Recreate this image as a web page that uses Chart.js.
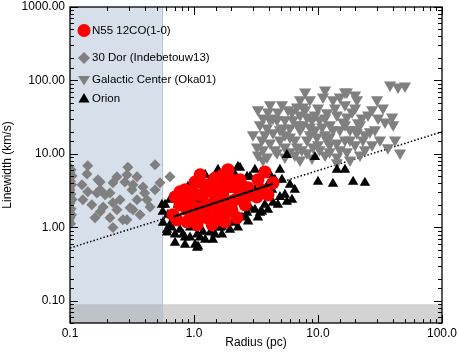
<!DOCTYPE html>
<html>
<head>
<meta charset="utf-8">
<script src="https://cdn.jsdelivr.net/npm/chart.js@4/dist/chart.umd.min.js"></script>
<style>
  html, body { margin: 0; padding: 0; background: #fff; }
</style>
</head>
<body>
<canvas id="chart" width="459" height="353"></canvas>
<script>
// --- DATA ---
// N55 12CO(1-0)
const n55Radius = [1.12,1.68,1.88,0.771,0.703,0.98,1.18,1.42,1.71,1.53,1.27,1.06,0.878,0.677,0.729,0.878,1.06,1.27,1.56,1.85,1.78,
  1.71,1.85,2.14,2.44,3.73,3.28,4.34,3.22,3.95,2.22,1.95,1.68,1.35,0.928,1.12,1.48,2.14,2.58,2.83,2.35,1.23,0.846,2.02,1.40,1.06,
  0.77,1.02,1.23,1.48,1.78,2.35,2.73,2.02,1.48,1.02,0.846,3.53,1.62];
const n55Width = [5.2,4.7,6.1,3.05,2.6,3.05,2.78,3.05,2.95,2.23,2.03,1.85,1.74,1.49,1.27,1.19,1.19,1.36,1.4,1.63,1.19,
  5.2,3.57,3.57,3.05,5.7,4.45,4.05,2.6,2.78,1.36,2.23,1.27,3.8,2.38,2.78,1.85,2.38,2.03,2.78,4.45,3.8,2.38,1.74,1.09,1.09,
  2.03,1.49,1.58,2.38,2.03,2.78,3.46,4.45,4.7,4.15,3.25,3.25,3.8];

// 30 Dor (Indebetouw13)
const dorRadius = [0.098,0.102,0.1,0.104,0.097,0.101,0.103,0.099,0.1,0.102,0.098,0.104,0.1,0.097,0.102,0.099,0.103,0.1,0.098,0.101,
  0.139,0.137,0.168,0.239,0.293,0.485,0.64,0.222,0.288,0.322,0.347,0.175,0.175,0.277,0.532,0.139,0.165,0.210,0.316,0.388,0.127,
  0.222,0.253,0.347,0.418,0.150,0.185,0.239,0.305,0.442,0.322,0.175,0.367,0.267,0.159,0.210,0.288,0.222,0.192,0.40,0.485,0.125];
const dorWidth = [6.6,6.1,5.5,5.0,4.6,4.2,3.8,3.4,3.2,2.85,2.6,2.4,2.15,1.97,1.8,1.63,1.49,1.35,1.23,1.12,
  6.9,5.35,4.45,4.9,6.6,7.1,4.9,4.05,5.2,3.8,4.9,3.25,4.15,4.15,4.05,3.05,2.95,2.95,3.25,3.55,2.38,
  2.16,2.38,2.38,2.38,2.03,1.9,1.74,1.85,1.9,1.74,1.63,1.49,1.27,1.35,1.35,1.27,1.0,2.78,2.95,3.25,3.8];

// Galactic Center (Oka01)
const gcRadius = [7.87,8.6,10.97,13.2,15.0,17.1,38.1,44.2,50.3,29.9,33.4,25.3,39.6,40.4,45.9,
  3.28,4.75,5.73,6.77,7.55,3.6,4.67,2.99,3.22,3.88,4.34,5.22,6.28,8.14,9.45,11.8,14.2,17.1,21.0,
  8.6,10.8,12.5,15.0,7.16,5.94,4.93,4.1,3.6,4.67,6.77,8.14,9.8,11.8,14.2,18.1,23.0,26.2,20.6,
  17.1,14.2,10.3,9.1,8.14,5.94,3.88,8.95,14.2,
  5.41,7.16,10.3,16.5,19.9,5.94,8.6,11.4,13.2,4.93,6.5,5.41,12.4,16.5,21.8,28.8,31.6,23.9,4.1,7.55,10.0,16.5,19.9,3.6,7.16,11.4,19.9,4.34,3.53,
  3.4,3.95,5.12,6.17,7.87,8.95,11.4,13.7,15.9,18.8,22.6,27.3,34.7,41.8,36.6,27.3,21.8,18.1,12.4,10.0,
  7.4,5.41,4.49,3.28,3.73,5.41,6.89,9.45,12.4,18.1,23.9,30.5,20.6,11.4,7.16,4.1,19.9,16.5,6.5,15.0];
const gcWidth = [69.8,54.5,59.7,54.5,59.7,69.8,86.9,81.6,84.1,54.5,42.3,34.0,31.9,24.9,10.3,
  39.8,37.3,39.8,43.6,43.6,30.9,29.1,18.2,12.4,22.6,19.4,22.6,29.1,31.9,34.0,36.3,34.0,31.9,26.5,
  23.3,23.3,24.9,21.3,21.3,17.0,15.5,14.1,11.4,10.4,12.4,15.5,17.0,15.5,14.1,15.5,15.5,20.0,19.4,
  10.7,9.1,11.4,12.4,10.4,10.7,9.1,8.8,7.6,
  29.1,34.0,29.1,24.9,21.3,22.6,18.2,18.2,21.3,21.3,15.5,12.4,13.3,15.5,24.9,21.3,15.5,11.4,29.1,24.9,42.3,46.6,42.3,8.3,8.3,9.7,13.3,30.9,15.5,
  24.9,37.3,46.6,37.3,39.8,29.1,30.9,42.3,27.2,37.3,30.9,39.8,27.2,15.5,12.1,13.3,9.7,8.3,10.7,13.3,
  11.4,9.1,11.4,9.7,18.2,18.2,24.9,21.3,17.0,21.3,18.2,30.9,54.5,74.3,54.5,46.6,63.6,69.8,9.7,11.4];

// Orion
const orionRadius = [0.562,0.606,0.703,0.703,0.815,0.928,1.02,1.06,1.18,1.35,1.62,1.78,1.35,1.42,1.85,0.928,0.815,0.584,
  1.88,2.35,2.83,4.93,5.12,5.94,4.26,4.93,3.73,4.34,3.4,2.83,2.58,5.61,5.61,9.45,10.0,13.2,19.2,23.9,14.2,16.5,6.17,3.53,
  2.26,2.68,0.98,0.894,0.771,0.552,0.617,0.606,0.846,1.08,1.68,2.02,2.44,2.68,3.1,2.14,1.48,1.23,0.64,0.74,
  3.28,3.95,4.49,3.53,3.1,1.12,1.48,1.95,2.35,1.62,2.83,0.77,
  0.64,0.74,0.66,0.77,0.93,1.12,1.42,1.68,1.95,2.26,2.73,3.28,3.95,4.75,5.41,6.5,4.1,3.1,2.58,2.14,1.56,1.23,1.12,0.815,0.56,0.846,1.06];
const orionWidth = [1.16,0.85,0.80,0.62,0.80,0.73,0.58,0.80,0.87,0.85,0.99,1.16,4.45,4.05,4.45,3.46,3.05,2.03,
  6.1,6.47,4.9,6.1,4.45,3.8,3.25,2.6,2.03,2.16,1.58,1.85,1.40,2.23,9.7,9.1,4.18,3.93,4.18,4.05,6.1,6.1,2.38,1.63,
  6.7,4.9,3.8,3.57,2.95,2.03,1.49,0.93,0.73,0.55,1.02,1.16,1.36,1.58,1.74,1.2,0.8,0.68,1.09,1.27,
  2.78,3.8,4.45,5.2,3.25,2.38,2.78,3.25,2.38,1.74,2.6,1.9,
  2.38,2.03,1.0,0.93,1.0,0.73,0.68,0.80,0.93,1.0,1.2,1.36,1.74,2.03,2.78,3.25,5.2,6.1,3.8,5.2,6.1,5.2,3.8,2.03,1.63,0.58,0.53];

// fits: N55 fit (solid) and size-linewidth relation (dotted)
const fitRadius = [0.68, 4.33];
const fitWidth = [1.40, 3.92];
const larsonRadius = [0.1, 100];
const larsonWidth = [0.525, 20];

// shaded regions
const beamRadius = [0.1, 0.55];
const resolutionWidth = [0.05, 0.09];

const legendLabels = ['N55 12CO(1-0)', '30 Dor (Indebetouw13)', 'Galactic Center (Oka01)', 'Orion'];

// --- helpers ---
const toPoints = (xs, ys) => xs.map((v, i) => ({ x: v, y: ys[i] }));
const isDecade = v => Math.abs(Math.log10(v) - Math.round(Math.log10(v))) < 1e-6;

Chart.defaults.font.family = "'Liberation Sans', Arial, Helvetica, sans-serif";
Chart.defaults.font.size = 12;
Chart.defaults.color = '#000';

// shaded bands behind the data
const bandsPlugin = {
  id: 'bands',
  beforeDatasetsDraw(chart) {
    const { ctx, chartArea: a, scales: { x, y } } = chart;
    const bx0 = x.getPixelForValue(beamRadius[0]), bx1 = x.getPixelForValue(beamRadius[1]);
    const gy0 = y.getPixelForValue(resolutionWidth[0]), gy1 = y.getPixelForValue(resolutionWidth[1]);
    ctx.save();
    ctx.fillStyle = '#d3d3d3';
    ctx.fillRect(a.left, gy1, a.right - a.left, gy0 - gy1);
    ctx.fillStyle = '#d6dfea';
    ctx.fillRect(bx0, a.top, bx1 - bx0, a.bottom - a.top);
    ctx.fillStyle = '#bec3ca';
    ctx.fillRect(bx0, gy1, bx1 - bx0, gy0 - gy1);
    ctx.strokeStyle = '#b3bfcd';
    ctx.lineWidth = 1;
    ctx.beginPath();
    ctx.moveTo(Math.round(bx1) + 0.5, a.top);
    ctx.lineTo(Math.round(bx1) + 0.5, a.bottom);
    ctx.stroke();
    ctx.restore();
  }
};

// frame + inward ticks on all four sides
const framePlugin = {
  id: 'frame',
  afterDraw(chart) {
    const { ctx, chartArea: a, scales: { x, y } } = chart;
    ctx.save();
    ctx.strokeStyle = '#000';
    ctx.lineWidth = 1;
    ctx.beginPath();
    x.ticks.forEach(t => {
      const px = Math.round(x.getPixelForValue(t.value)) + 0.5;
      const len = isDecade(t.value) ? 8 : 4;
      ctx.moveTo(px, a.bottom); ctx.lineTo(px, a.bottom - len);
      ctx.moveTo(px, a.top); ctx.lineTo(px, a.top + len);
    });
    y.ticks.forEach(t => {
      const py = Math.round(y.getPixelForValue(t.value)) + 0.5;
      const len = isDecade(t.value) ? 8 : 4;
      ctx.moveTo(a.left, py); ctx.lineTo(a.left + len, py);
      ctx.moveTo(a.right, py); ctx.lineTo(a.right - len, py);
    });
    ctx.stroke();
    ctx.lineWidth = 1.3;
    ctx.strokeRect(a.left, a.top, a.right - a.left, a.bottom - a.top);
    ctx.restore();
  }
};

// legend inside the plot, top left
const legendPlugin = {
  id: 'insideLegend',
  afterDraw(chart) {
    const { ctx, chartArea: a } = chart;
    const mx = a.left + 14, tx = a.left + 22;
    const rows = [a.top + 23.5, a.top + 51, a.top + 72.5, a.top + 91.5];
    ctx.save();
    // N55 circle
    ctx.fillStyle = '#ff0000';
    ctx.beginPath(); ctx.arc(mx, rows[0], 6.5, 0, Math.PI * 2); ctx.fill();
    // 30 Dor diamond
    ctx.fillStyle = '#808080';
    ctx.beginPath();
    ctx.moveTo(mx - 6, rows[1]); ctx.lineTo(mx, rows[1] - 6); ctx.lineTo(mx + 6, rows[1]); ctx.lineTo(mx, rows[1] + 6);
    ctx.closePath(); ctx.fill();
    // GC down triangle
    ctx.beginPath();
    ctx.moveTo(mx - 6, rows[2] - 3.5); ctx.lineTo(mx + 6, rows[2] - 3.5); ctx.lineTo(mx, rows[2] + 6);
    ctx.closePath(); ctx.fill();
    // Orion triangle
    ctx.fillStyle = '#000';
    ctx.beginPath();
    ctx.moveTo(mx - 5.5, rows[3] + 4); ctx.lineTo(mx + 5.5, rows[3] + 4); ctx.lineTo(mx, rows[3] - 5.5);
    ctx.closePath(); ctx.fill();

    ctx.font = "11.5px 'Liberation Sans', Arial, sans-serif";
    ctx.textBaseline = 'middle';
    ctx.fillStyle = '#000';
    legendLabels.forEach((s, i) => ctx.fillText(s, tx, rows[i]));
    ctx.restore();
  }
};

new Chart(document.getElementById('chart'), {
  type: 'scatter',
  data: {
    datasets: [
      {
        label: 'N55 fit',
        data: toPoints(fitRadius, fitWidth),
        showLine: true, borderColor: '#000', borderWidth: 2,
        pointRadius: 0, clip: 0
      },
      {
        label: legendLabels[0],
        data: toPoints(n55Radius, n55Width),
        pointStyle: 'circle', pointRadius: 6.5,
        backgroundColor: '#ff0000', borderColor: '#ff0000', borderWidth: 0, clip: 0
      },
      {
        label: legendLabels[3],
        data: toPoints(orionRadius, orionWidth),
        pointStyle: 'triangle', pointRadius: 6,
        backgroundColor: '#000', borderColor: '#000', borderWidth: 0, clip: 0
      },
      {
        label: legendLabels[2],
        data: toPoints(gcRadius, gcWidth),
        pointStyle: 'triangle', pointRotation: 180, pointRadius: 7,
        backgroundColor: '#808080', borderColor: '#808080', borderWidth: 0, clip: 0
      },
      {
        label: legendLabels[1],
        data: toPoints(dorRadius, dorWidth),
        pointStyle: 'rectRot', pointRadius: 5.5,
        backgroundColor: '#808080', borderColor: '#808080', borderWidth: 0, clip: 0
      },
      {
        label: 'Larson',
        data: toPoints(larsonRadius, larsonWidth),
        showLine: true, borderColor: '#000', borderWidth: 1.5, borderDash: [1.5, 2],
        pointRadius: 0, clip: 0
      }
    ]
  },
  options: {
    responsive: false,
    animation: false,
    devicePixelRatio: 1,
    events: [],
    layout: { padding: { left: 0, right: 17, top: 6.5, bottom: 0 } },
    plugins: { legend: { display: false }, tooltip: { enabled: false } },
    scales: {
      x: {
        type: 'logarithmic',
        min: 0.1, max: 100,
        grid: { display: false, drawTicks: false },
        border: { display: false },
        ticks: {
          autoSkip: false, maxRotation: 0, padding: 3,
          callback: v => isDecade(v) ? v.toFixed(1) : ''
        },
        title: { display: true, text: 'Radius (pc)', padding: { top: 0, bottom: 3 } },
        afterFit: s => { s.height = 30; s.paddingLeft = 0; s.paddingRight = 0; }
      },
      y: {
        type: 'logarithmic',
        min: 0.05, max: 1000,
        grid: { display: false, drawTicks: false },
        border: { display: false },
        ticks: {
          autoSkip: false, padding: 5,
          callback: v => isDecade(v) ? v.toFixed(2) : ''
        },
        title: { display: true, text: 'Linewidth (km/s)', padding: { top: 0, bottom: 0 } },
        afterFit: s => { s.width = 70; s.paddingTop = 0; s.paddingBottom = 0; }
      }
    }
  },
  plugins: [bandsPlugin, framePlugin, legendPlugin]
});
</script>
</body>
</html>
